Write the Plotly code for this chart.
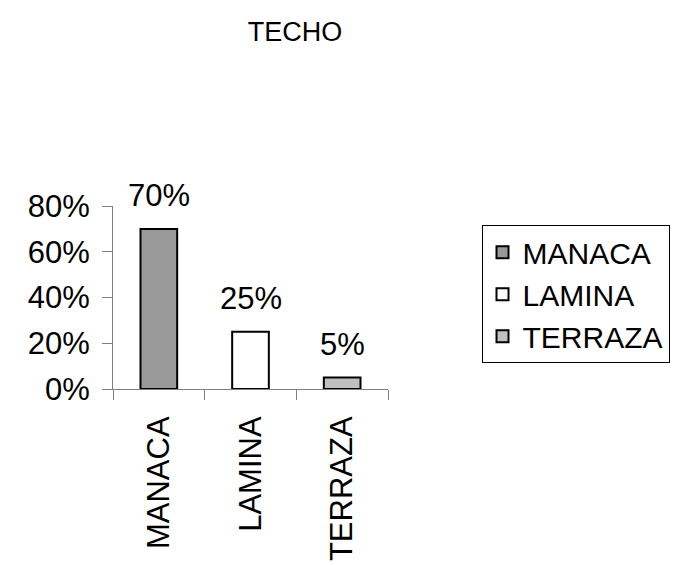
import plotly.graph_objects as go

categories = ["MANACA", "LAMINA", "TERRAZA"]
values = [0.70, 0.25, 0.05]
labels = ["70%", "25%", "5%"]
colors = ["#999999", "#ffffff", "#c0c0c0"]

FS = 31

fig = go.Figure()
for c, v, col in zip(categories, values, colors):
    fig.add_trace(go.Bar(
        x=[c], y=[v], name=c,
        marker=dict(color=col, line=dict(color="black", width=2)),
        width=0.4, legendgroup=c,
    ))

for c, v, t in zip(categories, values, labels):
    fig.add_annotation(x=c, y=v, text=t, showarrow=False, xanchor="center",
                       yanchor="bottom", yshift=14, font=dict(size=FS, color="black"))

fig.update_layout(
    width=673, height=557,
    paper_bgcolor="white", plot_bgcolor="white",
    font=dict(family="Liberation Sans, Arial, sans-serif", color="black", size=FS),
    title=dict(text="TECHO", xref="paper", x=(293 - 105) / 284, xanchor="center",
               y=1 - 24 / 557, yanchor="middle", font=dict(size=27)),
    margin=dict(l=105, r=284, t=198, b=176),
    barmode="overlay",
    showlegend=True,
    legend=dict(x=1.34, y=0.895, xanchor="left", yanchor="top",
                bordercolor="black", borderwidth=1, bgcolor="white",
                font=dict(size=30), tracegroupgap=13, traceorder="normal",
                itemwidth=30),
    xaxis=dict(categoryorder="array", categoryarray=categories,
               tickson="boundaries", ticks="outside", ticklen=10,
               tickcolor="#808080", showline=True, linecolor="#808080",
               linewidth=1, tickangle=-90, showgrid=False, automargin=False,
               ticklabelstandoff=14, tickfont=dict(size=FS)),
    yaxis=dict(range=[0, 0.8], tickvals=[0, 0.2, 0.4, 0.6, 0.8],
               tickformat=".0%", ticks="outside", ticklen=10,
               tickcolor="#808080", showline=True, linecolor="#808080",
               linewidth=1, showgrid=False, zeroline=False, automargin=False,
               ticklabelstandoff=6, tickfont=dict(size=FS)),
)

fig.write_html("out.html")
